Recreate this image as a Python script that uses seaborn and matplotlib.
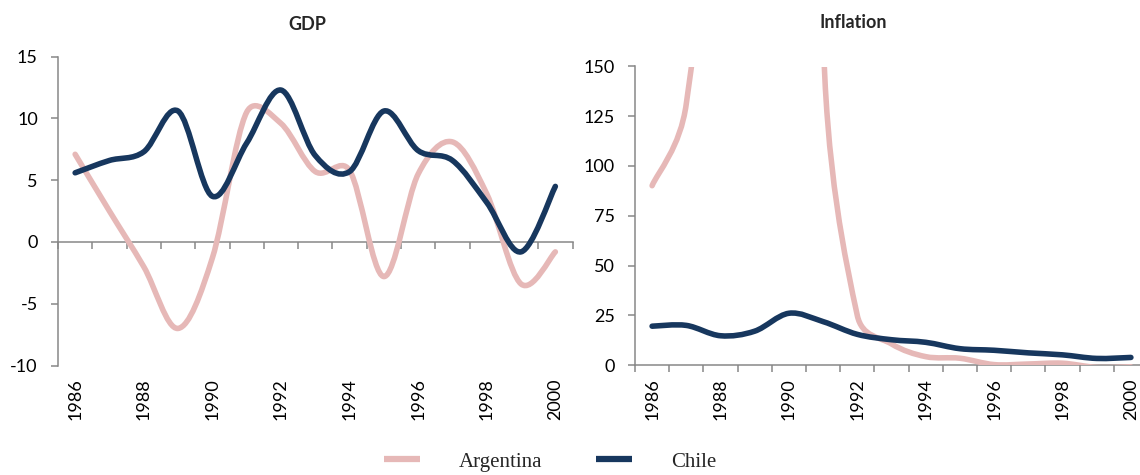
import numpy as np
import pandas as pd
import matplotlib
matplotlib.use("Agg")
import matplotlib.pyplot as plt
import seaborn as sns
from matplotlib.path import Path
from matplotlib.patches import PathPatch
from matplotlib.lines import Line2D

# ---------------- data ----------------
years = list(range(1986, 2001))
year_labels = [str(y) for y in years]
countries = ["Argentina", "Chile"]

gdp_argentina = [7.1, 2.5, -2.0, -7.0, -1.3, 10.5, 9.6, 5.7, 5.8, -2.8, 5.5, 8.1, 3.9, -3.4, -0.8]
gdp_chile = [5.6, 6.6, 7.3, 10.6, 3.7, 8.0, 12.3, 7.0, 5.7, 10.6, 7.4, 6.6, 3.2, -0.8, 4.5]
inf_argentina = [90.1, 131.3, 343.0, 3079.5, 2314.0, 171.7, 24.9, 10.6, 4.2, 3.4, 0.2, 0.5, 0.9, -1.2, -0.9]
inf_chile = [19.5, 19.9, 14.7, 17.0, 26.0, 21.8, 15.4, 12.7, 11.4, 8.2, 7.4, 6.1, 5.1, 3.3, 3.8]

gdp_ticks = [-10, -5, 0, 5, 10, 15]
inf_ticks = [0, 25, 50, 75, 100, 125, 150]

palette = {"Argentina": "#E6B8B7", "Chile": "#17375E"}
axis_gray = "#878787"

# ---------------- style ----------------
sns.set_theme(style="white")
plt.rcParams["font.family"] = ["Lato", "DejaVu Sans"]
plt.rcParams["axes.linewidth"] = 1.1

TICK_FS = 13


def long_df(arg, chi):
    pos = list(range(len(years)))
    return pd.DataFrame({
        "pos": pos * 2,
        "value": list(arg) + list(chi),
        "country": ["Argentina"] * len(arg) + ["Chile"] * len(chi),
    })


def smooth_path(ax, xs, ys):
    """Excel-like smoothed Bezier path through the points (computed in display space)."""
    P = ax.transData.transform(np.column_stack([xs, ys]))
    n = len(P)

    def ctrl(i):
        p0 = P[max(i - 1, 0)]
        p1 = P[i]
        p2 = P[min(i + 1, n - 1)]
        T = p2 - p0
        lt = np.hypot(*T)
        if lt == 0:
            return p1, p1
        d01 = np.hypot(*(p1 - p0))
        d12 = np.hypot(*(p2 - p1))
        f_out = min(1 / 6, d12 / 2 / lt)
        f_in = min(1 / 6, d01 / 2 / lt)
        return p1 - T * f_in, p1 + T * f_out

    ctrls = [ctrl(i) for i in range(n)]
    verts = [P[0]]
    codes = [Path.MOVETO]
    for i in range(n - 1):
        verts += [ctrls[i][1], ctrls[i + 1][0], P[i + 1]]
        codes += [Path.CURVE4] * 3
    verts = ax.transData.inverted().transform(np.array(verts))
    return Path(verts, codes)


def draw_series(ax, df, ylim):
    sns.lineplot(data=df, x="pos", y="value", hue="country", hue_order=countries,
                 palette=palette, lw=4, legend=False, ax=ax, sort=False, errorbar=None)
    ax.set_xlim(-0.5, len(years) - 0.5)
    ax.set_ylim(*ylim)
    for line in list(ax.lines):
        xy = line.get_xydata()
        path = smooth_path(ax, xy[:, 0], xy[:, 1])
        patch = PathPatch(path, fill=False, edgecolor=line.get_color(),
                          lw=line.get_linewidth(), capstyle="round",
                          joinstyle="round", zorder=3)
        line.remove()
        ax.add_patch(patch)


def style_axes(ax, yticks, label_pad):
    ax.set_xlabel("")
    ax.set_ylabel("")
    for s in ["top", "right"]:
        ax.spines[s].set_visible(False)
    for s in ["left", "bottom"]:
        ax.spines[s].set_color(axis_gray)
        ax.spines[s].set_linewidth(1.1)
    ax.set_yticks(yticks)
    ax.set_yticklabels([str(t) for t in yticks])
    ax.tick_params(axis="y", which="major", direction="out", length=5, width=1.1,
                   color=axis_gray, pad=9.5, labelsize=TICK_FS, labelcolor="black", left=True)
    pos = list(range(len(years)))
    ax.set_xticks(pos[::2])
    ax.set_xticklabels(year_labels[::2])
    ax.set_xticks([p - 0.5 for p in pos] + [pos[-1] + 0.5], minor=True)
    ax.tick_params(axis="x", which="major", length=0, pad=label_pad, labelsize=TICK_FS,
                   labelcolor="black", bottom=True, labelrotation=90)
    ax.tick_params(axis="x", which="minor", direction="out", length=5, width=1.1,
                   color=axis_gray, bottom=True)
    ax.grid(False)


fig = plt.figure(figsize=(11.4, 4.75), dpi=100)
W, H = 1140, 475

# GDP panel
ax1 = fig.add_axes([58 / W, 1 - 365.5 / H, 514.5 / W, (365.5 - 56.7) / H])
draw_series(ax1, long_df(gdp_argentina, gdp_chile), (-10, 15))
ax1.spines["bottom"].set_position(("data", 0))
style_axes(ax1, gdp_ticks, label_pad=(378 - 241.7) / 1.389)

# Inflation panel
ax2 = fig.add_axes([635 / W, 1 - 365 / H, 513 / W, (365 - 66.5) / H])
draw_series(ax2, long_df(inf_argentina, inf_chile), (0, 150))
style_axes(ax2, inf_ticks, label_pad=9.5)

# titles
fig.text(307 / W, 1 - 25 / H, "GDP", ha="center", va="center",
         fontsize=13, fontweight="bold")
fig.text(853 / W, 1 - 23 / H, "Inflation", ha="center", va="center",
         fontsize=13, fontweight="bold")

# legend
handles = [Line2D([0], [0], color=palette[c], lw=4.5, solid_capstyle="butt") for c in countries]
fig.legend(handles, countries, loc="center", bbox_to_anchor=(550 / W, 1 - 462 / H),
           ncol=2, frameon=False, handlelength=1.73, handletextpad=1.87,
           columnspacing=2.6, borderpad=0.2, prop={"family": ["Liberation Serif"], "size": 15})

fig.savefig("out.png", dpi=100)
